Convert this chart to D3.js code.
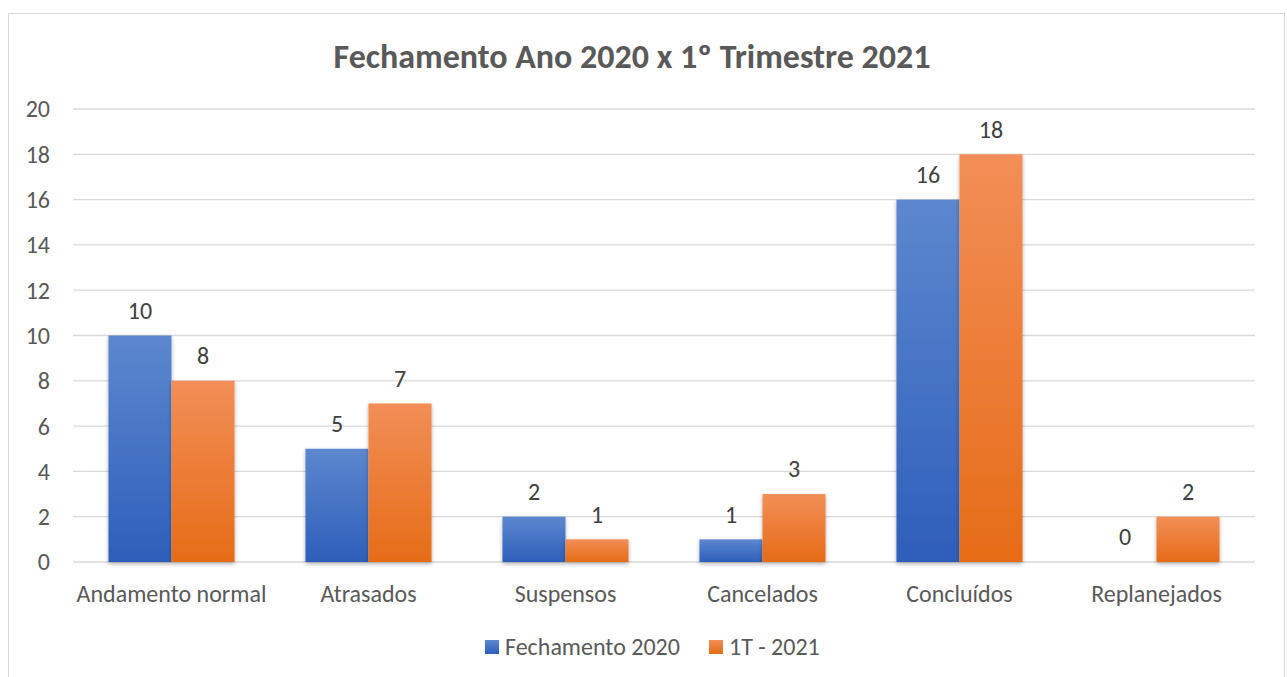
<!DOCTYPE html>
<html lang="pt-br">
<head>
<meta charset="utf-8">
<script src="https://cdn.jsdelivr.net/npm/d3@7"></script>
<style>
  body { margin: 0; background: #fff; }
  svg text { font-family: Carlito, Lato, "Open Sans", sans-serif; }
</style>
</head>
<body>
<svg id="grafico" width="1287" height="677"></svg>
<script>
// dados
const categorias = ["Andamento normal", "Atrasados", "Suspensos", "Cancelados", "Concluídos", "Replanejados"];
const series = ["Fechamento 2020", "1T - 2021"];
const fechamento2020 = [10, 5, 2, 1, 16, 0];
const t1_2021 = [8, 7, 1, 3, 18, 2];
const ticksY = [0, 2, 4, 6, 8, 10, 12, 14, 16, 18, 20];

const svg = d3.select("#grafico");
const margem = {top: 109, right: 32, bottom: 115, left: 73};
const largura = 1287 - margem.left - margem.right;
const altura = 677 - margem.top - margem.bottom;

// borda do gráfico
svg.append("rect")
  .attr("x", 8.5).attr("y", 13.5)
  .attr("width", 1276).attr("height", 700)
  .attr("fill", "none").attr("stroke", "#d9d9d9");

// gradientes e sombra
const defs = svg.append("defs");
const cores = [["#5d87cf", "#2d5fba"], ["#f28e57", "#e66c17"]];
cores.forEach((c, i) => {
  const g = defs.append("linearGradient").attr("id", "grad" + i)
    .attr("x1", 0).attr("y1", 0).attr("x2", 0).attr("y2", 1);
  g.append("stop").attr("offset", "0%").attr("stop-color", c[0]);
  g.append("stop").attr("offset", "100%").attr("stop-color", c[1]);
});
const sombra = defs.append("filter").attr("id", "sombra")
  .attr("x", "-20%").attr("y", "-10%").attr("width", "140%").attr("height", "130%");
sombra.append("feDropShadow").attr("dx", 0).attr("dy", 2).attr("stdDeviation", 2)
  .attr("flood-color", "#000").attr("flood-opacity", 0.3);

const g = svg.append("g").attr("transform", `translate(${margem.left},${margem.top})`);

const y = d3.scaleLinear().domain([0, 20]).range([altura, 0]);
const x0 = d3.scaleBand().domain(categorias).range([0, largura]).paddingInner(0.36).paddingOuter(0.18);
const x1 = d3.scaleBand().domain(series).range([0, x0.bandwidth()]);

// grade
g.append("g").selectAll("line").data(ticksY).join("line")
  .attr("x1", 0).attr("x2", largura)
  .attr("y1", d => y(d)).attr("y2", d => y(d))
  .attr("stroke", "#d9d9d9").attr("stroke-width", 1.3);

// eixo y
g.append("g").selectAll("text").data(ticksY).join("text")
  .attr("x", -23).attr("y", d => y(d)).attr("dy", "0.35em")
  .attr("text-anchor", "end").attr("font-size", 24).attr("fill", "#595959")
  .text(d => d);

// rótulos do eixo x
g.append("g").selectAll("text").data(categorias).join("text")
  .attr("x", d => x0(d) + x0.bandwidth() / 2).attr("y", altura + 40)
  .attr("text-anchor", "middle").attr("font-size", 24).attr("fill", "#595959")
  .text(d => d);

// barras
const valores = [fechamento2020, t1_2021];
const linhas = [];
categorias.forEach((c, i) => series.forEach((s, j) => linhas.push({c, s, j, v: valores[j][i]})));

g.append("g").selectAll("rect").data(linhas.filter(d => d.v > 0)).join("rect")
  .attr("x", d => x0(d.c) + x1(d.s))
  .attr("y", d => y(d.v))
  .attr("width", x1.bandwidth())
  .attr("height", d => altura - y(d.v))
  .attr("fill", d => `url(#grad${d.j})`)
  .attr("filter", "url(#sombra)");

// rótulos de dados
g.append("g").selectAll("text").data(linhas).join("text")
  .attr("x", d => x0(d.c) + x1(d.s) + x1.bandwidth() / 2)
  .attr("y", d => y(d.v) - 25)
  .attr("dy", "0.35em")
  .attr("text-anchor", "middle").attr("font-size", 24).attr("fill", "#404040")
  .text(d => d.v);

// título
svg.append("text")
  .attr("x", 632).attr("y", 68)
  .attr("text-anchor", "middle").attr("font-size", 34).attr("font-weight", "bold")
  .attr("fill", "#595959")
  .text("Fechamento Ano 2020 x 1º Trimestre 2021");

// legenda
const legX = [485, 709];
const leg = svg.append("g").selectAll("g").data(series).join("g")
  .attr("transform", (d, i) => `translate(${legX[i]},640)`);
leg.append("rect").attr("width", 14).attr("height", 14).attr("fill", (d, i) => `url(#grad${i})`);
leg.append("text").attr("x", 20).attr("y", 7).attr("dy", "0.35em")
  .attr("font-size", 24).attr("fill", "#595959").text(d => d);
</script>
</body>
</html>
